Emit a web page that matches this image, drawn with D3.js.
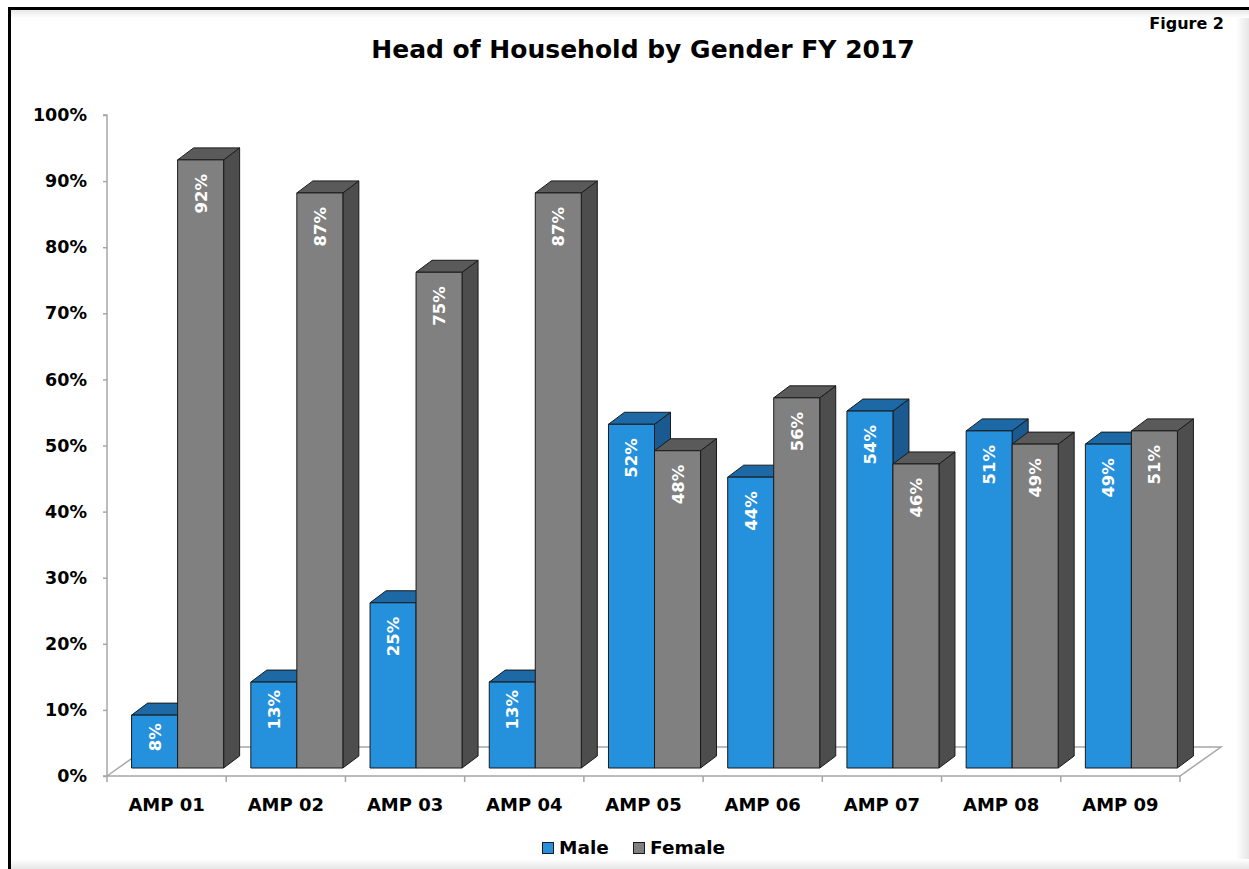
<!DOCTYPE html>
<html><head><meta charset="utf-8">
<script src="https://cdn.jsdelivr.net/npm/d3@7"></script>
<style>body{margin:0;background:#fff;}svg{display:block;}</style>
</head><body>
<script>
const categories = ["AMP 01","AMP 02","AMP 03","AMP 04","AMP 05","AMP 06","AMP 07","AMP 08","AMP 09"];
const seriesNames = ["Male","Female"];
const maleValues = [8,13,25,13,52,44,54,51,49];
const femaleValues = [92,87,75,87,48,56,46,49,51];
const yTicks = [0,10,20,30,40,50,60,70,80,90,100];
const titleText = "Head of Household by Gender FY 2017";
const figureText = "Figure 2";

const W = 1249, H = 869;
const FONT = "'DejaVu Sans', sans-serif";
const colors = {
  Male:   {front:"#2590dc", top:"#1d69a6", side:"#1a5a91"},
  Female: {front:"#808080", top:"#5a5a5a", side:"#4d4d4d"}
};
const svg = d3.select("body").append("svg").attr("width", W).attr("height", H);
const defs = svg.append("defs");
const gR = defs.append("linearGradient").attr("id","gr").attr("x1","0").attr("x2","1").attr("y1","0").attr("y2","0");
gR.append("stop").attr("offset","0").attr("stop-color","#ffffff");
gR.append("stop").attr("offset","1").attr("stop-color","#e6e6e6");
const gB = defs.append("linearGradient").attr("id","gb").attr("x1","0").attr("x2","0").attr("y1","0").attr("y2","1");
gB.append("stop").attr("offset","0").attr("stop-color","#ffffff");
gB.append("stop").attr("offset","1").attr("stop-color","#e6e6e6");
const gT = defs.append("linearGradient").attr("id","gt").attr("x1","0").attr("x2","0").attr("y1","0").attr("y2","1");
gT.append("stop").attr("offset","0").attr("stop-color","#e8e8e8");
gT.append("stop").attr("offset","1").attr("stop-color","#ffffff");

// frame
svg.append("rect").attr("x",1236).attr("y",10).attr("width",13).attr("height",H-10).attr("fill","url(#gr)");
svg.append("rect").attr("x",11).attr("y",859).attr("width",1238).attr("height",10).attr("fill","url(#gb)");
svg.append("rect").attr("x",11).attr("y",10).attr("width",1238).attr("height",8).attr("fill","url(#gt)");
svg.append("line").attr("x1",8).attr("x2",W).attr("y1",8.5).attr("y2",8.5).attr("stroke","#000").attr("stroke-width",3);
svg.append("line").attr("x1",9.5).attr("x2",9.5).attr("y1",7).attr("y2",H).attr("stroke","#000").attr("stroke-width",3);

// geometry
const x0 = 107, x1 = 1180, yFront = 776;
const depth = {dx:41, dy:-29};       // floor depth
const barOff = {dx:11, dy:-8};       // bar front face offset into depth
const barDepth = {dx:16, dy:-12};    // bar depth

const y = d3.scaleLinear().domain([0,100]).range([yFront, yFront-661]);
const x = d3.scaleBand().domain(categories).range([x0,x1]).paddingInner(0.228).paddingOuter(0.114);
const xs = d3.scaleBand().domain(seriesNames).range([0, x.bandwidth()]);
const step = (x1-x0)/categories.length;

// floor
const floor = svg.append("g").attr("fill","none").attr("stroke","#a6a6a6").attr("stroke-width",1.5);
floor.append("path").attr("d", `M${x0},${yFront} L${x0+depth.dx},${yFront+depth.dy} L${x1+depth.dx},${yFront+depth.dy} L${x1},${yFront} Z`).attr("fill","#fff");
// y axis
const yAxis = d3.axisLeft(y).tickValues(yTicks).tickSize(4).tickFormat(d => d + "%");
const ya = svg.append("g").attr("transform", `translate(${x0},0)`).call(yAxis);
ya.select(".domain").attr("stroke","#a6a6a6").attr("stroke-width",1.5).attr("d", `M-4,${y(100)}H0V${yFront}H-4`);
ya.selectAll(".tick line").attr("stroke","#a6a6a6").attr("stroke-width",1.5);
ya.selectAll(".tick text").attr("x",-20).attr("font-family",FONT).attr("font-weight","bold").attr("font-size",17.5).attr("fill","#000");

// category ticks
svg.append("g").selectAll("line").data(d3.range(categories.length+1)).join("line")
  .attr("x1", i => x0 + i*step).attr("x2", i => x0 + i*step)
  .attr("y1", yFront).attr("y2", yFront+6)
  .attr("stroke","#a6a6a6").attr("stroke-width",1.5);
svg.append("g").selectAll("text").data(categories).join("text")
  .attr("x", (d,i) => x0 + (i+0.5)*step)
  .attr("y", 811).attr("text-anchor","middle")
  .attr("font-family",FONT).attr("font-weight","bold").attr("font-size",18).attr("fill","#000")
  .text(d => d);

// bars
const data = categories.map((c,i) => ({cat:c, vals:[{s:"Male", v:maleValues[i]},{s:"Female", v:femaleValues[i]}]}));
const bars = svg.append("g");
data.forEach(d => {
  d.vals.forEach(b => {
    const bx = x(d.cat) + xs(b.s) + barOff.dx;
    const w = xs.bandwidth();
    const yb = y(0) + barOff.dy;
    const yt = y(b.v) + barOff.dy;
    const c = colors[b.s];
    const g = bars.append("g").attr("stroke","#1a1a1a").attr("stroke-width",1).attr("stroke-linejoin","round");
    g.append("path").attr("fill", c.side)
      .attr("d", `M${bx+w},${yt} L${bx+w+barDepth.dx},${yt+barDepth.dy} L${bx+w+barDepth.dx},${yb+barDepth.dy} L${bx+w},${yb} Z`);
    g.append("path").attr("fill", c.top)
      .attr("d", `M${bx},${yt} L${bx+barDepth.dx},${yt+barDepth.dy} L${bx+w+barDepth.dx},${yt+barDepth.dy} L${bx+w},${yt} Z`);
    g.append("rect").attr("fill", c.front).attr("x", bx).attr("y", yt).attr("width", w).attr("height", yb-yt);
    const off = b.v < 20 ? 8 : 14;
    bars.append("text")
      .attr("transform", `translate(${bx + w/2 + 6},${yt + off}) rotate(-90)`)
      .attr("text-anchor","end")
      .attr("font-family",FONT).attr("font-weight","bold").attr("font-size",16.5).attr("fill","#fff")
      .text(b.v + "%");
  });
});

// title
svg.append("text").attr("x",643).attr("y",58).attr("text-anchor","middle")
  .attr("font-family",FONT).attr("font-weight","bold").attr("font-size",25).attr("fill","#000").text(titleText);
svg.append("text").attr("x",1224).attr("y",29).attr("text-anchor","end")
  .attr("font-family",FONT).attr("font-weight","bold").attr("font-size",16).attr("fill","#000").text(figureText);

// legend
const legend = svg.append("g");
const legItems = [{s:"Male", x:542}, {s:"Female", x:633}];
legItems.forEach(it => {
  legend.append("rect").attr("x", it.x+0.5).attr("y", 842.5).attr("width", 11).attr("height", 11)
    .attr("fill", colors[it.s].front).attr("stroke","#1a1a1a").attr("stroke-width",1);
  legend.append("text").attr("x", it.x+17).attr("y", 854)
    .attr("font-family",FONT).attr("font-weight","bold").attr("font-size",18.5).attr("fill","#000").text(it.s);
});
</script>
</body></html>
